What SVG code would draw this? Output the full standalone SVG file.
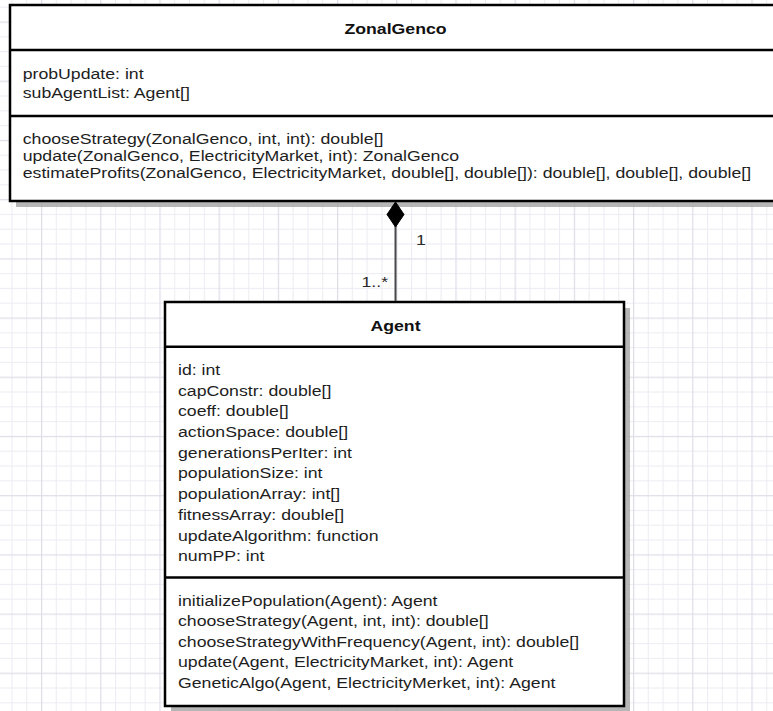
<svg xmlns="http://www.w3.org/2000/svg" width="773" height="711" viewBox="0 0 773 711">
  <defs>
    <!-- background grid: minor lines every 14.8px, stronger line every 4th -->
    <pattern id="grid" patternUnits="userSpaceOnUse" x="41" y="258.3" width="59.2" height="59.2">
      <rect x="0" y="0" width="59.2" height="59.2" fill="#ffffff"/>
      <g fill="#ececf3">
        <rect x="14.8" y="0" width="1" height="59.2"/>
        <rect x="29.6" y="0" width="1" height="59.2"/>
        <rect x="44.4" y="0" width="1" height="59.2"/>
        <rect x="0" y="14.8" width="59.2" height="1"/>
        <rect x="0" y="29.6" width="59.2" height="1"/>
        <rect x="0" y="44.4" width="59.2" height="1"/>
      </g>
      <g fill="#dedee8">
        <rect x="0" y="0" width="1.2" height="59.2"/>
        <rect x="0" y="0" width="59.2" height="1.2"/>
      </g>
    </pattern>
    <style>
      .box { fill: #ffffff; stroke: #000000; stroke-width: 2.5; }
      .div { stroke: #000000; stroke-width: 2.5; fill: none; }
      .shadow { fill: #a9a9a9; opacity: 0.85; }
      .t { font-family: "Liberation Sans", Arial, sans-serif; font-size: 15px; fill: #1e1e1e; }
      .title { font-family: "Liberation Sans", Arial, sans-serif; font-size: 15px; font-weight: bold; fill: #111111; }
      .link { stroke: #4a4a4a; stroke-width: 2; fill: none; }
      .lbl { font-family: "Liberation Sans", Arial, sans-serif; font-size: 15px; fill: #2a2a2a; }
    </style>
  </defs>

  <rect x="0" y="0" width="773" height="711" fill="url(#grid)"/>

  <!-- ZonalGenco class -->
  <g id="ZonalGenco">
    <rect class="shadow" x="16" y="11" width="770" height="196"/>
    <rect class="box" x="10" y="5" width="770" height="196"/>
    <line class="div" x1="10" y1="50" x2="780" y2="50"/>
    <line class="div" x1="10" y1="116" x2="780" y2="116"/>
    <g transform="translate(395.5,0) scale(1.18,1)">
      <text class="title" x="0" y="34" text-anchor="middle">ZonalGenco</text>
    </g>
    <g transform="translate(22.7,0) scale(1.18,1)">
      <text class="t" x="0" y="79">probUpdate: int</text>
      <text class="t" x="0" y="98">subAgentList: Agent[]</text>
      <text class="t" x="0" y="144">chooseStrategy(ZonalGenco, int, int): double[]</text>
      <text class="t" x="0" y="161">update(ZonalGenco, ElectricityMarket, int): ZonalGenco</text>
      <text class="t" x="0" y="178">estimateProfits(ZonalGenco, ElectricityMarket, double[], double[]): double[], double[], double[]</text>
    </g>
  </g>

  <!-- Agent class -->
  <g id="Agent">
    <rect class="shadow" x="171" y="308" width="459" height="404"/>
    <rect class="box" x="165" y="302" width="459" height="404"/>
    <line class="div" x1="165" y1="346.7" x2="624" y2="346.7"/>
    <line class="div" x1="165" y1="577.5" x2="624" y2="577.5"/>
    <g transform="translate(395.5,0) scale(1.18,1)">
      <text class="title" x="0" y="331" text-anchor="middle">Agent</text>
    </g>
    <g transform="translate(178,0) scale(1.18,1)">
      <text class="t" x="0" y="375">id: int</text>
      <text class="t" x="0" y="395.7">capConstr: double[]</text>
      <text class="t" x="0" y="416.4">coeff: double[]</text>
      <text class="t" x="0" y="437.1">actionSpace: double[]</text>
      <text class="t" x="0" y="457.8">generationsPerIter: int</text>
      <text class="t" x="0" y="478.5">populationSize: int</text>
      <text class="t" x="0" y="499.2">populationArray: int[]</text>
      <text class="t" x="0" y="519.9">fitnessArray: double[]</text>
      <text class="t" x="0" y="540.6">updateAlgorithm: function</text>
      <text class="t" x="0" y="561.3">numPP: int</text>
      <text class="t" x="0" y="606">initializePopulation(Agent): Agent</text>
      <text class="t" x="0" y="626.4">chooseStrategy(Agent, int, int): double[]</text>
      <text class="t" x="0" y="646.8">chooseStrategyWithFrequency(Agent, int): double[]</text>
      <text class="t" x="0" y="667.2">update(Agent, ElectricityMarket, int): Agent</text>
      <text class="t" x="0" y="687.6">GeneticAlgo(Agent, ElectricityMerket, int): Agent</text>
    </g>
  </g>

  <!-- composition: ZonalGenco (1) owns Agent (1..*) -->
  <g id="connectors">
    <line class="link" x1="395.5" y1="226" x2="395.5" y2="301"/>
    <path d="M395.5,202 L404,214.5 L395.5,227 L387,214.5 Z" fill="#000000" stroke="#000000" stroke-width="1"/>
    <g transform="translate(416,0) scale(1.18,1)">
      <text class="lbl" x="0" y="245">1</text>
    </g>
    <g transform="translate(361.5,0) scale(1.18,1)">
      <text class="lbl" x="0" y="287">1..*</text>
    </g>
  </g>
</svg>
